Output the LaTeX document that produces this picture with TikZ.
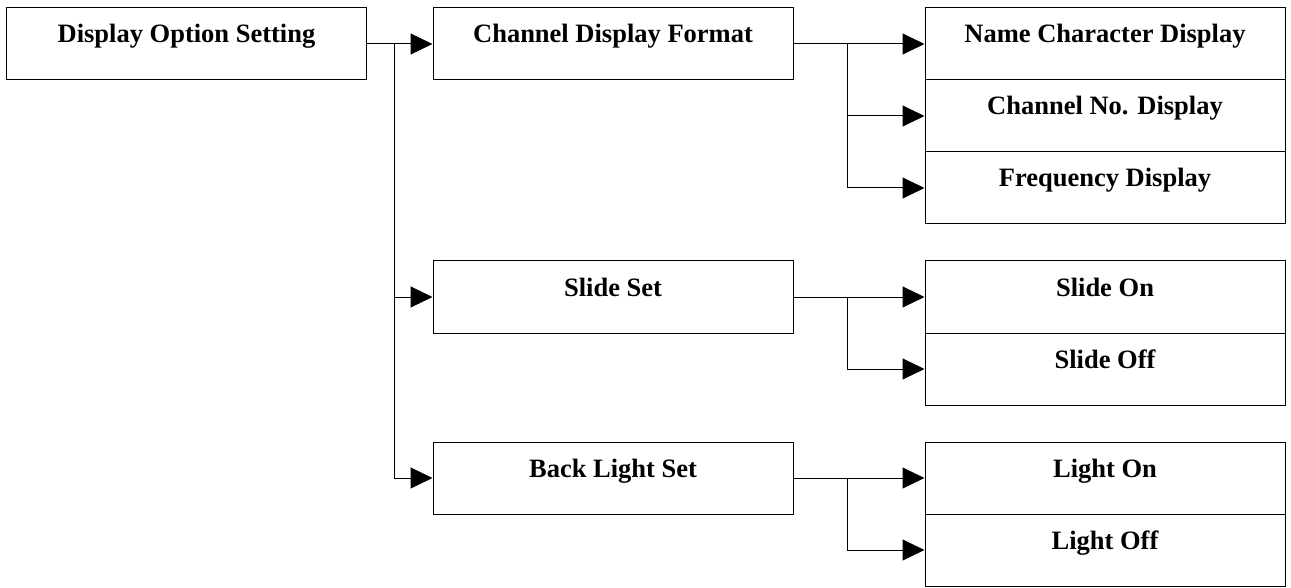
\documentclass[tikz,border=0pt]{standalone}
\usepackage{fontspec}
\setmainfont{Liberation Serif}
\usetikzlibrary{arrows.meta,calc}
\begin{document}
\begin{tikzpicture}[x=1pt,y=-1pt,line width=1pt,
  menubox/.style={draw,inner sep=0pt,minimum width=360pt,text height=35pt,text depth=37pt,font=\fontsize{26.5}{31}\selectfont\bfseries},
  branch/.style={-{Triangle[length=22pt,width=21pt]}}]
\useasboundingbox(0,0)rectangle(1291,588);
% first level
\node[menubox](root)at(186.5,44){Display Option Setting};
% second level
\node[menubox](fmt)at(613,44){Channel Display Format};
\node[menubox](slide)at(613,297){Slide Set};
\node[menubox](light)at(613,478){Back Light Set};
% third level
\node[menubox](name)at(1105,44){Name Character Display};
\node[menubox](chno)at(1105,116){Channel No. Display};
\node[menubox](freq)at(1105,188){Frequency Display};
\node[menubox](son)at(1105,297){Slide On};
\node[menubox](soff)at(1105,369){Slide Off};
\node[menubox](lon)at(1105,478){Light On};
\node[menubox](loff)at(1105,550){Light Off};
% junctions
\coordinate(j0)at(394,44);\coordinate(j1)at(847,44);\coordinate(j2)at(847,297);\coordinate(j3)at(847,478);
\draw[branch](root)--(fmt);\draw[branch](j0)|-(slide.west);\draw[branch](j0)|-(light.west);
\draw[branch](fmt)--(name);\draw[branch](j1)|-(chno.west);\draw[branch](j1)|-(freq.west);
\draw[branch](slide)--(son);\draw[branch](j2)|-(soff.west);
\draw[branch](light)--(lon);\draw[branch](j3)|-(loff.west);
\end{tikzpicture}
\end{document}
